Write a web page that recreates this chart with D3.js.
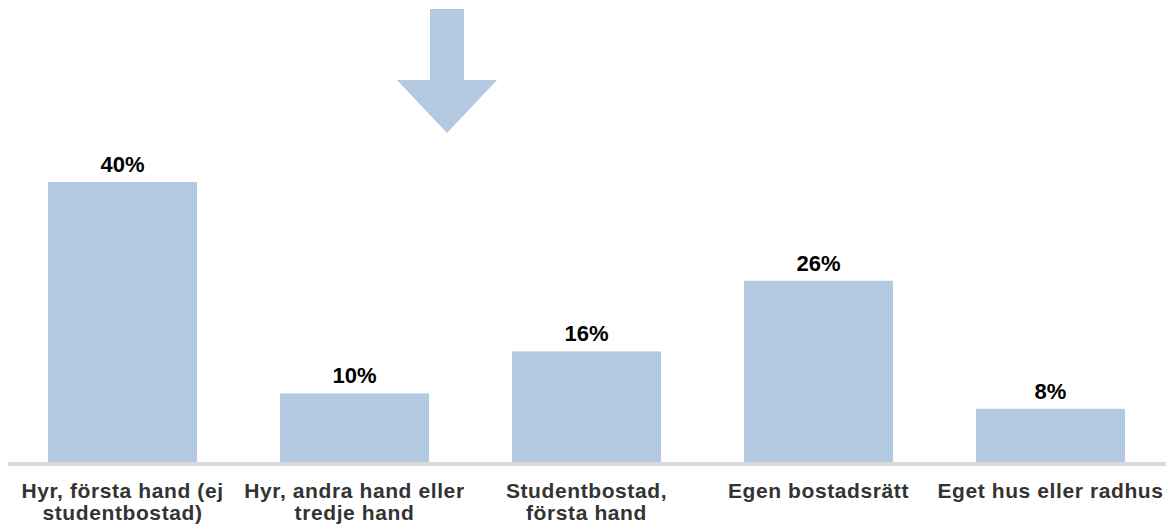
<!DOCTYPE html>
<html>
<head>
<meta charset="utf-8">
<script src="https://cdn.jsdelivr.net/npm/d3@7"></script>
<style>
html,body{margin:0;padding:0;background:#fff;}
svg{display:block;}
</style>
</head>
<body>
<svg id="chart" width="1166" height="528"></svg>
<script>
const categories = [
  ["Hyr, första hand (ej", "studentbostad)"],
  ["Hyr, andra hand eller", "tredje hand"],
  ["Studentbostad,", "första hand"],
  ["Egen bostadsrätt"],
  ["Eget hus eller radhus"]
];
const values = [40, 9.8, 15.8, 25.9, 7.6];
const valueLabels = ["40%", "10%", "16%", "26%", "8%"];

const svg = d3.select("#chart");
const barColor = "#b3c8e1";
const baseY = 462;

const x = d3.scaleBand()
  .domain(d3.range(categories.length))
  .range([6.5, 1166.5])
  .paddingInner(0.358)
  .paddingOuter(0.179);

const y = d3.scaleLinear().domain([0, 40]).range([baseY, 182]);

// decorative arrow
svg.append("polygon")
  .attr("points", "430,9 464,9 464,80 497,80 447,133 397,80 430,80")
  .attr("fill", barColor);

// bars
svg.selectAll("rect.bar").data(values).join("rect")
  .attr("class", "bar")
  .attr("x", (d, i) => x(i))
  .attr("width", x.bandwidth())
  .attr("y", d => y(d))
  .attr("height", d => baseY - y(d))
  .attr("fill", barColor);

// baseline
svg.append("rect")
  .attr("x", 8).attr("y", baseY)
  .attr("width", 1166 - 8).attr("height", 4)
  .attr("fill", "#d9d9d9");

// value labels
svg.selectAll("text.val").data(values).join("text")
  .attr("class", "val")
  .attr("x", (d, i) => x(i) + x.bandwidth() / 2)
  .attr("y", d => y(d) - 10)
  .attr("text-anchor", "middle")
  .attr("font-family", "Liberation Sans, Arial, sans-serif")
  .attr("font-weight", "bold")
  .attr("font-size", 22)
  .attr("fill", "#000")
  .text((d, i) => valueLabels[i]);

// category labels (one text per line)
const lines = [];
categories.forEach((c, i) => c.forEach((t, j) => lines.push({t, i, j})));
svg.selectAll("text.cat").data(lines).join("text")
  .attr("class", "cat")
  .attr("text-anchor", "middle")
  .attr("font-family", "Liberation Sans, Arial, sans-serif")
  .attr("font-weight", "bold")
  .attr("font-size", 21)
  .attr("letter-spacing", 0.6)
  .attr("fill", "#333")
  .attr("x", d => x(d.i) + x.bandwidth() / 2)
  .attr("y", d => 498 + d.j * 22)
  .text(d => d.t);
</script>
</body>
</html>
